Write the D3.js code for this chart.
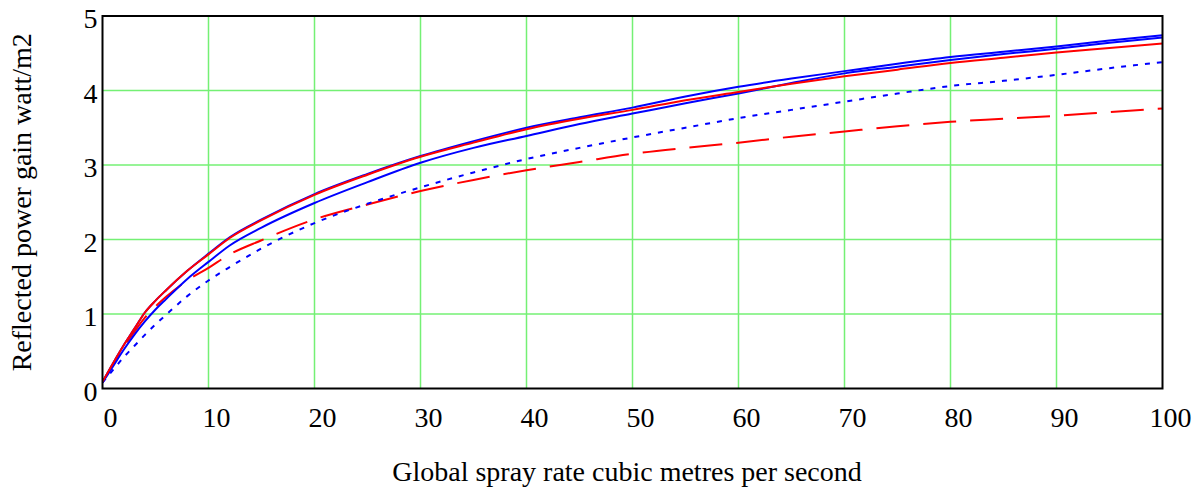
<!DOCTYPE html>
<html>
<head>
<meta charset="utf-8">
<script src="https://cdn.jsdelivr.net/npm/d3@7"></script>
<style>
body { margin: 0; background: #fff; }
svg { display: block; }
text { font-family: "Liberation Serif", "Times New Roman", serif; fill: #000; }
</style>
</head>
<body>
<svg></svg>
<script>
const width = 1199;
const height = 490;

// spray rate, cubic metres per second
const rate = [0, 1, 2, 3, 4, 5, 6, 8, 10, 12, 15, 20, 25, 30, 35, 40, 45, 50, 55, 60, 65, 70, 75, 80, 85, 90, 95, 100];

// reflected power gain, watt/m2
const blueUpper = [0.09, 0.34, 0.58, 0.80, 1.02, 1.18, 1.32, 1.58, 1.81, 2.03, 2.27, 2.61, 2.88, 3.12, 3.32, 3.50, 3.64, 3.77, 3.92, 4.05, 4.16, 4.26, 4.36, 4.45, 4.52, 4.59, 4.67, 4.74];
const redSolid = [0.09, 0.34, 0.58, 0.80, 1.02, 1.18, 1.32, 1.58, 1.80, 2.02, 2.26, 2.60, 2.87, 3.11, 3.30, 3.48, 3.62, 3.74, 3.87, 3.98, 4.09, 4.19, 4.28, 4.37, 4.44, 4.51, 4.57, 4.63];
const blueLower = [0.08, 0.30, 0.52, 0.72, 0.90, 1.06, 1.20, 1.47, 1.70, 1.92, 2.16, 2.49, 2.77, 3.03, 3.23, 3.39, 3.55, 3.69, 3.83, 3.96, 4.10, 4.23, 4.32, 4.41, 4.49, 4.56, 4.64, 4.71];
const blueDotted = [0.08, 0.25, 0.42, 0.57, 0.72, 0.86, 0.99, 1.24, 1.45, 1.63, 1.88, 2.22, 2.48, 2.70, 2.90, 3.08, 3.23, 3.37, 3.50, 3.63, 3.74, 3.85, 3.96, 4.06, 4.13, 4.21, 4.30, 4.38];
const redDashed = [0.08, 0.33, 0.56, 0.76, 0.95, 1.10, 1.23, 1.45, 1.62, 1.80, 1.99, 2.27, 2.47, 2.65, 2.80, 2.93, 3.04, 3.15, 3.23, 3.30, 3.38, 3.45, 3.52, 3.58, 3.62, 3.66, 3.71, 3.76];

const xTicks = [0, 10, 20, 30, 40, 50, 60, 70, 80, 90, 100];
const yTicks = [0, 1, 2, 3, 4, 5];

const series = [
	{ values: redDashed, color: '#ff0000', dash: '33,14' },
	{ values: blueDotted, color: '#0000ff', dash: '5,7' },
	{ values: blueLower, color: '#0000ff', dash: null },
	{ values: blueUpper, color: '#0000ff', dash: null },
	{ values: redSolid, color: '#ff0000', dash: null }
];

const margin = { left: 102.5, right: 36.5, top: 16, bottom: 101.5 };

const svg = d3.select('svg')
	.attr('width', width)
	.attr('height', height);

const x = d3.scaleLinear()
	.domain([0, 100])
	.range([margin.left, width - margin.right]);

const y = d3.scaleLinear()
	.domain([0, 5])
	.range([height - margin.bottom, margin.top]);

// grid
svg.append('g')
	.selectAll('line')
	.data(xTicks.slice(1, -1))
	.enter().append('line')
		.attr('x1', d => x(d))
		.attr('x2', d => x(d))
		.attr('y1', y(0))
		.attr('y2', y(5))
		.attr('stroke', '#74f074')
		.attr('stroke-width', 1.5);

svg.append('g')
	.selectAll('line')
	.data(yTicks.slice(1, -1))
	.enter().append('line')
		.attr('x1', x(0))
		.attr('x2', x(100))
		.attr('y1', d => y(d))
		.attr('y2', d => y(d))
		.attr('stroke', '#74f074')
		.attr('stroke-width', 1.5);

svg.append('clipPath')
	.attr('id', 'plot')
	.append('rect')
		.attr('x', x(0))
		.attr('y', y(5))
		.attr('width', x(100) - x(0))
		.attr('height', y(0) - y(5));

const line = d3.line()
	.x((d, i) => x(rate[i]))
	.y(d => y(d))
	.curve(d3.curveMonotoneX);

svg.append('g')
	.attr('clip-path', 'url(#plot)')
	.selectAll('path')
	.data(series)
	.enter().append('path')
		.attr('d', d => line(d.values))
		.attr('fill', 'none')
		.attr('stroke', d => d.color)
		.attr('stroke-width', 2)
		.attr('stroke-dasharray', d => d.dash);

// frame
svg.append('rect')
	.attr('x', x(0))
	.attr('y', y(5))
	.attr('width', x(100) - x(0))
	.attr('height', y(0) - y(5))
	.attr('fill', 'none')
	.attr('stroke', '#000')
	.attr('stroke-width', 2);

// tick labels
svg.append('g')
	.selectAll('text')
	.data(xTicks)
	.enter().append('text')
		.attr('x', d => x(d) + 8)
		.attr('y', y(0) + 38)
		.attr('text-anchor', 'middle')
		.attr('font-size', 28)
		.text(d => d);

svg.append('g')
	.selectAll('text')
	.data(yTicks)
	.enter().append('text')
		.attr('x', x(0) - 5)
		.attr('y', d => y(d) + 12)
		.attr('text-anchor', 'end')
		.attr('font-size', 28)
		.text(d => d);

// axis titles
svg.append('text')
	.attr('x', 627)
	.attr('y', 481)
	.attr('text-anchor', 'middle')
	.attr('font-size', 28)
	.text('Global spray rate cubic metres per second');

svg.append('text')
	.attr('transform', `translate(31, ${(y(0) + y(5)) / 2}) rotate(-90)`)
	.attr('text-anchor', 'middle')
	.attr('font-size', 28)
	.text('Reflected power gain watt/m2');
</script>
</body>
</html>
